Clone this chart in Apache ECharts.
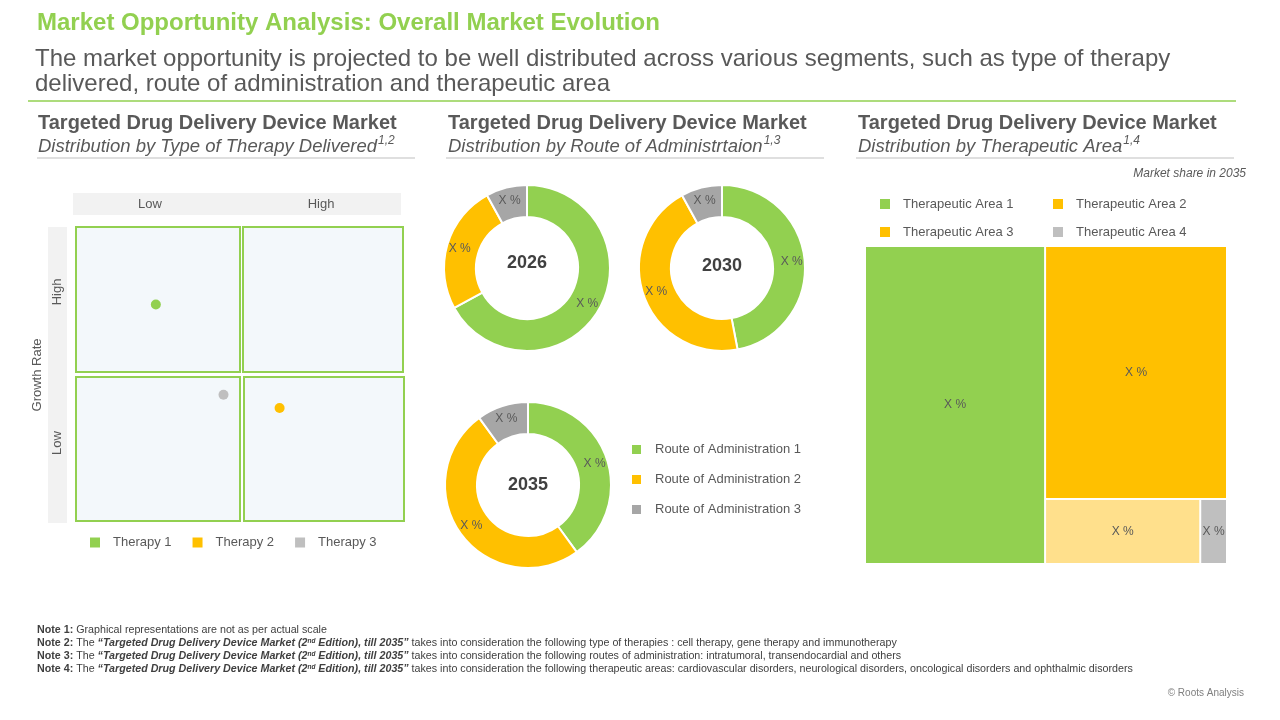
<!DOCTYPE html>
<html>
<head>
<meta charset="utf-8">
<script src="https://cdn.jsdelivr.net/npm/echarts@6/dist/echarts.min.js"></script>
<style>
    html, body { margin: 0; padding: 0; background: #fff; }
    #main { width: 1280px; height: 720px; }
</style>
</head>
<body>
<div id="main"></div>
<script>
var font = '"Liberation Sans", Arial, sans-serif';
var textColor = '#595959';
var green = '#92D050', yellow = '#FFC000', paleYellow = '#FFE08C', gray = '#A6A6A6', lightGray = '#BFBFBF';

// 数据
var therapyNames = ['Therapy 1', 'Therapy 2', 'Therapy 3'];
var therapyPoints = [[0.49, 1.47], [1.24, 0.77], [0.90, 0.86]];
var matrixCols = ['Low', 'High'];
var matrixRows = ['High', 'Low'];

var routeNames = ['Route of Administration 1', 'Route of Administration 2', 'Route of Administration 3'];
var routeYears = ['2026', '2030', '2035'];
var route2026 = [67, 25, 8];
var route2030 = [47, 45, 8];
var route2035 = [40, 50, 10];

var areaNames = ['Therapeutic Area 1', 'Therapeutic Area 2', 'Therapeutic Area 3', 'Therapeutic Area 4'];
var areaShare2035 = [49.4, 39.7, 8.7, 1.5];

var therapyColors = [green, yellow, lightGray];
var routeColors = [green, yellow, gray];
var areaColors = [green, yellow, paleYellow, lightGray];
var areaLegendColors = [green, yellow, yellow, lightGray];

var chart = echarts.init(document.getElementById('main'));

function txt(x, y, text, size, extra) {
    var style = {
        x: 0, y: 0, text: text, fill: textColor,
        fontSize: size, fontFamily: font,
        align: 'left', verticalAlign: 'middle'
    };
    for (var k in extra || {}) style[k] = extra[k];
    return { type: 'text', x: x, y: y, style: style, silent: true };
}

function vtxt(x, y, text) {
    return { type: 'text', x: x, y: y, rotation: Math.PI / 2, silent: true,
        style: { text: text, fontSize: 13, fontFamily: font, fill: textColor, align: 'center', verticalAlign: 'middle' } };
}

function hline(x1, x2, y, color, w) {
    return { type: 'line', shape: { x1: x1, y1: y, x2: x2, y2: y }, style: { stroke: color, lineWidth: w }, silent: true };
}

function panelHead(x, sub, sup) {
    return {
        type: 'text', x: x, y: 112, silent: true,
        style: {
            text: '{t|Targeted Drug Delivery Device Market}\n{s|' + sub + '}{sup|' + sup + '}',
            verticalAlign: 'top',
            rich: {
                t: { fontSize: 20, fontWeight: 'bold', fontFamily: font, fill: textColor, lineHeight: 23 },
                s: { fontSize: 18.5, fontStyle: 'italic', fontFamily: font, fill: textColor, lineHeight: 23 },
                sup: { fontSize: 12, fontStyle: 'italic', fontFamily: font, fill: textColor, lineHeight: 23, verticalAlign: 'top', padding: [0, 0, 0, 1] }
            }
        }
    };
}

var noteSize = 10.7;
var noteRich = {
    n: { fontSize: noteSize, fontFamily: font, fill: '#404040', lineHeight: 13 },
    b: { fontSize: noteSize, fontWeight: 'bold', fontFamily: font, fill: '#404040', lineHeight: 13 },
    bi: { fontSize: noteSize, fontWeight: 'bold', fontStyle: 'italic', fontFamily: font, fill: '#404040', lineHeight: 13 },
    sup: { fontSize: 6.5, fontWeight: 'bold', fontStyle: 'italic', fontFamily: font, fill: '#404040', lineHeight: 13, verticalAlign: 'top', padding: [1, 0, 0, 0] }
};
var reportName = '{bi|“Targeted Drug Delivery Device Market (2}{sup|nd}{bi| Edition), till 2035”}';
var notes = [
    '{b|Note 1:}{n| Graphical representations are not as per actual scale}',
    '{b|Note 2:}{n| The }' + reportName + '{n| takes into consideration the following type of therapies : cell therapy, gene therapy and immunotherapy}',
    '{b|Note 3:}{n| The }' + reportName + '{n| takes into consideration the following routes of administration: intratumoral, transendocardial and others}',
    '{b|Note 4:}{n| The }' + reportName + '{n| takes into consideration the following therapeutic areas: cardiovascular disorders, neurological disorders, oncological disorders and ophthalmic disorders}'
];

var graphic = [
    txt(37, 23, 'Market Opportunity Analysis: Overall Market Evolution', 24, { fill: green, fontWeight: 'bold' }),
    {
        type: 'text', x: 35, y: 47, silent: true,
        style: {
            text: 'The market opportunity is projected to be well distributed across various segments, such as type of therapy\ndelivered, route of administration and therapeutic area',
            fontSize: 24, fontFamily: font, fill: textColor, lineHeight: 25, verticalAlign: 'top'
        }
    },
    hline(28, 1236, 101, green, 1.5),
    panelHead(38, 'Distribution by Type of Therapy Delivered', '1,2'),
    panelHead(448, 'Distribution by Route of Administrtaion', '1,3'),
    panelHead(858, 'Distribution by Therapeutic Area', '1,4'),
    hline(37, 415, 158, lightGray, 1),
    hline(446, 824, 158, lightGray, 1),
    hline(856, 1234, 158, lightGray, 1),
    txt(1246, 174, 'Market share in 2035', 12, { align: 'right', fontStyle: 'italic' }),
    // 矩阵表头
    { type: 'rect', shape: { x: 73, y: 193, width: 328, height: 22 }, style: { fill: '#F2F2F2' }, silent: true },
    { type: 'rect', shape: { x: 48, y: 227, width: 19, height: 296 }, style: { fill: '#F2F2F2' }, silent: true },
    txt(150, 204, matrixCols[0], 13, { align: 'center' }),
    txt(321, 204, matrixCols[1], 13, { align: 'center' }),
    vtxt(57, 292, matrixRows[0]),
    vtxt(57, 443, matrixRows[1]),
    vtxt(37, 375, 'Growth Rate'),
    txt(1244, 693, '© Roots Analysis', 10, { align: 'right', fill: '#7F7F7F' })
];

// 年份
var donutCenters = [[527, 268], [722, 268], [528, 485]];
var yearLabelY = [263, 266, 485];
routeYears.forEach(function (y, i) {
    graphic.push(txt(donutCenters[i][0], yearLabelY[i], y, 18, { align: 'center', fontWeight: 'bold', fill: '#404040' }));
});

// 治疗领域图例
areaNames.forEach(function (name, i) {
    var x = i % 2 === 0 ? 880 : 1053;
    var y = i < 2 ? 204 : 232;
    graphic.push({ type: 'rect', shape: { x: x, y: y - 5, width: 10, height: 10 }, style: { fill: areaLegendColors[i] }, silent: true });
    graphic.push(txt(x + 23, y, name, 13));
});

notes.forEach(function (n, i) {
    graphic.push({ type: 'text', x: 37, y: 630 + i * 13, silent: true, style: { text: n, rich: noteRich, verticalAlign: 'middle' } });
});

// 四象限
var quads = [
    { left: 76, top: 227, width: 164, height: 145 },
    { left: 243, top: 227, width: 160, height: 145 },
    { left: 76, top: 377, width: 164, height: 144 },
    { left: 244, top: 377, width: 160, height: 144 }
];
var grids = quads.map(function (q) {
    return { left: q.left, top: q.top, width: q.width, height: q.height, show: true, backgroundColor: '#F3F8FB', borderColor: green, borderWidth: 2 };
});
grids.push({ left: 75, top: 226, width: 330, height: 296, show: false });

var xAxes = [], yAxes = [];
grids.forEach(function (g, i) {
    var max = i === 4 ? 2 : 1;
    xAxes.push({ gridIndex: i, type: 'value', min: 0, max: max, show: false });
    yAxes.push({ gridIndex: i, type: 'value', min: 0, max: max, show: false });
});

var series = therapyNames.map(function (name, i) {
    return {
        name: name, type: 'scatter', xAxisIndex: 4, yAxisIndex: 4, symbolSize: 10, silent: true,
        itemStyle: { color: therapyColors[i], opacity: 1 },
        data: [therapyPoints[i]]
    };
});

function donut(values, center) {
    return {
        type: 'pie', radius: [51, 83], center: center, startAngle: 90, clockwise: true, silent: true,
        label: { show: true, position: 'inside', formatter: 'X %', color: textColor, fontSize: 12, fontFamily: font },
        labelLine: { show: false },
        itemStyle: { borderColor: '#fff', borderWidth: 2 },
        data: values.map(function (v, i) {
            return { name: routeNames[i], value: v, itemStyle: { color: routeColors[i] } };
        })
    };
}
series.push(donut(route2026, donutCenters[0]));
series.push(donut(route2030, donutCenters[1]));
series.push(donut(route2035, donutCenters[2]));

series.push({
    type: 'treemap', left: 866, top: 247, width: 360, height: 316,
    roam: false, nodeClick: false, silent: true, squareRatio: 1,
    breadcrumb: { show: false },
    itemStyle: { gapWidth: 2, borderWidth: 0, borderColor: '#fff' },
    label: { show: true, position: 'inside', formatter: 'X %', color: textColor, fontSize: 12, fontFamily: font, overflow: 'none', padding: 0 },
    data: areaNames.map(function (name, i) {
        return { name: name, value: areaShare2035[i], itemStyle: { color: areaColors[i] } };
    })
});

var option = {
    animation: false,
    textStyle: { fontFamily: font },
    grid: grids,
    xAxis: xAxes,
    yAxis: yAxes,
    legend: [{
        data: therapyNames, left: 90, top: 536, padding: 0,
        icon: 'rect', itemWidth: 10, itemHeight: 10, itemGap: 21,
        selectedMode: false,
        textStyle: { color: textColor, fontSize: 13, fontFamily: font, padding: [0, 0, 0, 8] }
    }, {
        data: routeNames, orient: 'vertical', left: 630, top: 443, padding: 0,
        icon: 'rect', itemWidth: 11, itemHeight: 11, itemGap: 17,
        selectedMode: false,
        textStyle: { color: textColor, fontSize: 13, fontFamily: font, padding: [0, 0, 0, 8] }
    }],
    graphic: graphic,
    series: series
};
chart.setOption(option);
</script>
</body>
</html>
